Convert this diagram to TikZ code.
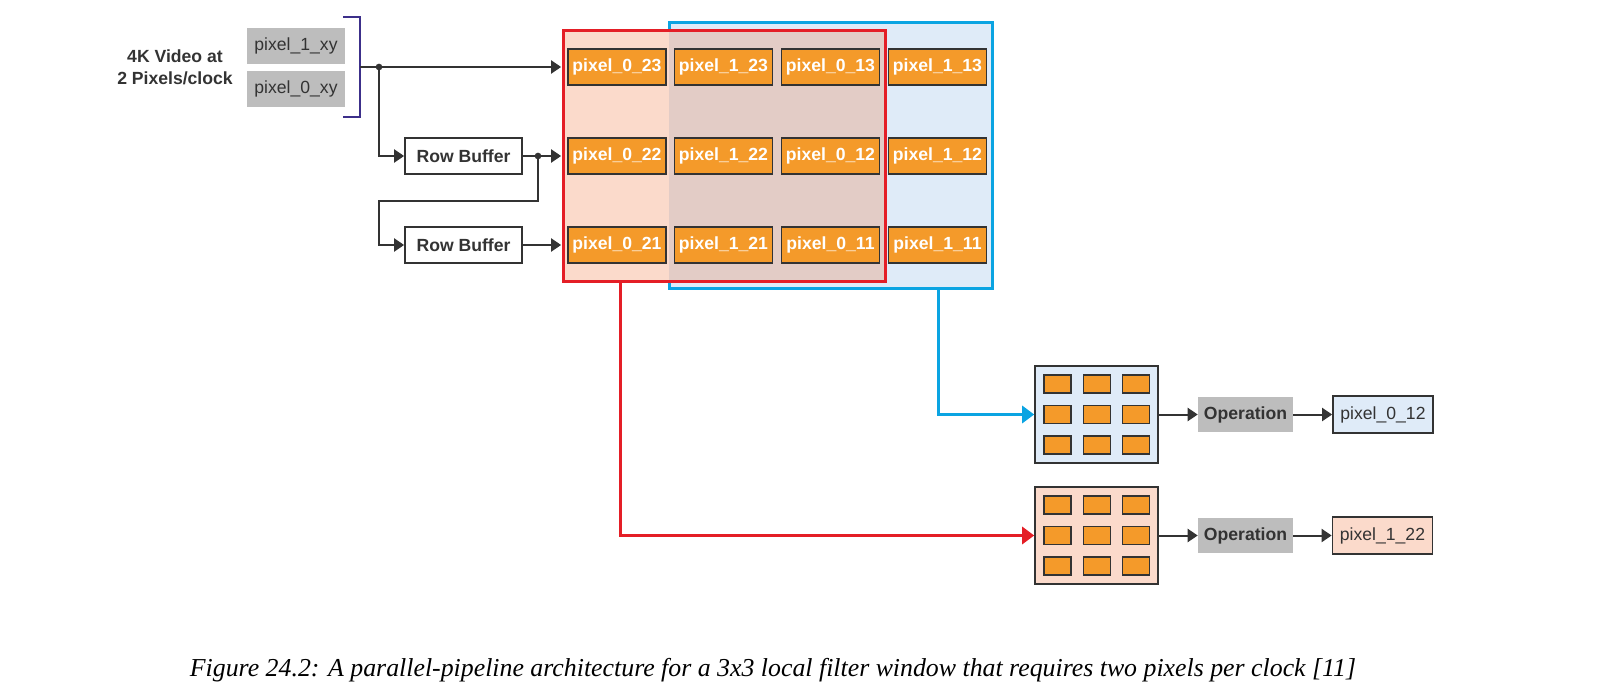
\documentclass[tikz,border=0pt]{standalone}
\usepackage{fontspec}
\usepackage{graphicx}
\setmainfont{Liberation Sans}
\newfontfamily\capfont{Liberation Serif}
\usetikzlibrary{arrows.meta}
\definecolor{orng}{HTML}{F49A2A}
\definecolor{dk}{HTML}{333333}
\definecolor{gry}{HTML}{BDBDBD}
\definecolor{peach}{HTML}{FBDACB}
\definecolor{ovl}{HTML}{E3CCC6}
\definecolor{lblue}{HTML}{DFEBF8}
\definecolor{rd}{HTML}{E41E26}
\definecolor{bl}{HTML}{0BA4E2}
\definecolor{brk}{HTML}{3C2F8A}
\tikzset{
  every node/.style={font=\fontsize{13.2}{16}\selectfont, inner sep=0pt},
  pix/.style={draw=dk, line width=1.3pt, fill=orng, text=white, font=\fontsize{13.2}{16}\selectfont\bfseries, minimum width=73.5pt, minimum height=27pt},
  inbox/.style={fill=gry, text=dk, minimum width=73.5pt, minimum height=27pt},
  rowbuf/.style={draw=dk, line width=1.3pt, fill=white, text=dk, font=\fontsize{13.2}{16}\selectfont\bfseries, minimum width=87.75pt, minimum height=27pt},
  cell/.style={draw=dk, line width=1.1pt, fill=orng, minimum width=20.25pt, minimum height=13.5pt},
  win/.style={draw=dk, line width=1.2pt, minimum width=92.25pt, minimum height=72.75pt},
  opbox/.style={fill=gry, text=dk, font=\fontsize{13.2}{16}\selectfont\bfseries, minimum width=71.25pt, minimum height=26.25pt},
  outbox/.style={draw=dk, line width=1.3pt, text=dk, minimum width=75pt, minimum height=27.75pt},
  arr/.style={draw=dk, line width=1.5pt, -{Triangle[length=7.5pt,width=9.75pt]}},
  carr/.style={line width=2.25pt, -{Triangle[length=9pt,width=12.75pt]}},
  dot/.style={circle, fill=dk, minimum size=5pt, inner sep=0pt},
}
\begin{document}
\begin{tikzpicture}[x=0.75pt,y=-0.75pt]
\useasboundingbox (0,0) rectangle (1603,695);
% frames
\node[draw=bl, line width=2.25pt, fill=lblue, minimum width=242.25pt, minimum height=199.5pt] (blueframe) at (830.5,156) {};
\fill[peach] (563,31) rectangle (669,282);
\fill[ovl] (669,31) rectangle (885,282);
\node[draw=rd, line width=2.25pt, minimum width=241.5pt, minimum height=188.25pt] (redframe) at (724,156.5) {};
% input
\node[font=\fontsize{13.2}{16.5}\selectfont\bfseries, text=dk, align=center] (lbl) at (175,67) {4K Video at\\2 Pixels/clock};
\node[inbox] (in1) at (296,46) {pixel\_1\_xy};
\node[inbox] (in0) at (296,89) {pixel\_0\_xy};
\coordinate (b1) at (343,17);
\coordinate (b2) at (360,17);
\coordinate (b3) at (360,117);
\coordinate (b4) at (343,117);
\coordinate (bm) at (360,67);
\draw[brk, line width=1.6pt] (b1) -- (b2) -- (b3) -- (b4);
% grid
\foreach \lab/\nm/\x/\y in {
 pixel\_0\_23/g11/617/67, pixel\_1\_23/g21/723.5/67, pixel\_0\_13/g31/830.5/67, pixel\_1\_13/g41/937.5/67,
 pixel\_0\_22/g12/617/156, pixel\_1\_22/g22/723.5/156, pixel\_0\_12/g32/830.5/156, pixel\_1\_12/g42/937.5/156,
 pixel\_0\_21/g13/617/245, pixel\_1\_21/g23/723.5/245, pixel\_0\_11/g33/830.5/245, pixel\_1\_11/g43/937.5/245}
 {\node[pix] (\nm) at (\x,\y) {\lab};}
% row buffers
\node[rowbuf] (rb1) at (463.5,156) {Row Buffer};
\node[rowbuf] (rb2) at (463.5,245) {Row Buffer};
\node[dot] (j1) at (379,67) {};
\node[dot] (j2) at (538,156) {};
\coordinate (k1) at (538,201);
\coordinate (k2) at (379,201);
\draw[arr, shorten >=4.5pt] (bm) -- (g11.west);
\draw[arr] (j1.center) |- (rb1.west);
\draw[arr, shorten >=4.5pt] (rb1.east) -- (g12.west);
\draw[arr] (j2.center) -- (k1) -- (k2) |- (rb2.west);
\draw[arr, shorten >=4.5pt] (rb2.east) -- (g13.west);
% small windows
\node[win, fill=lblue] (bwin) at (1096.5,414.5) {};
\node[win, fill=peach] (rwin) at (1096.5,535.5) {};
\foreach \x [count=\i] in {1057.5,1097,1136}{
  \foreach \y [count=\j] in {384,414.5,445}{
    \node[cell] (bc\i\j) at (\x,\y) {};
    \node[cell] (rc\i\j) at (\x,\y+121) {};
  }}
\node[opbox] (op1) at (1245.5,414.5) {Operation};
\node[opbox] (op2) at (1245.5,535.5) {Operation};
\node[outbox, fill=lblue] (out1) at (1383,414.5) {pixel\_0\_12};
\node[outbox, fill=peach] (out2) at (1382.5,535.5) {pixel\_1\_22};
\draw[arr] (bwin.east) -- (op1.west);
\draw[arr] (op1.east) -- (out1.west);
\draw[arr] (rwin.east) -- (op2.west);
\draw[arr] (op2.east) -- (out2.west);
% connectors
\coordinate (r0) at (620,282);
\coordinate (bb0) at (938,289);
\draw[carr, rd] (r0) |- (rwin.west);
\draw[carr, bl] (bb0) |- (bwin.west);
% caption
\node (cap) at (773,670) {\resizebox{874.5pt}{!}{\capfont\itshape Figure 24.2: A parallel-pipeline architecture for a 3x3 local filter window that requires two pixels per clock [11]}};
\end{tikzpicture}
\end{document}
